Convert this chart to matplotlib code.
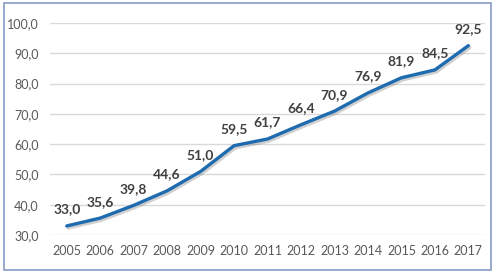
import matplotlib.pyplot as plt
import matplotlib.patheffects as pe
from matplotlib.patches import Rectangle

anos = [2005, 2006, 2007, 2008, 2009, 2010, 2011, 2012, 2013, 2014, 2015, 2016, 2017]
valores = [33.0, 35.6, 39.8, 44.6, 51.0, 59.5, 61.7, 66.4, 70.9, 76.9, 81.9, 84.5, 92.5]
yticks = [30, 40, 50, 60, 70, 80, 90, 100]

fig = plt.figure(figsize=(4.95, 2.73), dpi=100)
ax = fig.add_axes([0.101, 0.139, 0.879, 0.777])

ax.plot(anos, valores, color='#1F6BB0', linewidth=2.4, solid_capstyle='round',
        solid_joinstyle='round',
        path_effects=[pe.SimpleLineShadow(offset=(1, -1.5), shadow_color='#7a7a7a', alpha=0.35),
                      pe.Normal()], zorder=3)

for x, y in zip(anos, valores):
    ax.annotate(f'{y:.1f}'.replace('.', ','), (x, y), xytext=(0, 7.5), textcoords='offset points',
                ha='center', va='bottom', fontsize=10, fontweight='bold',
                color='#404040', family='Lato')

ax.set_xlim(2004.5, 2017.5)
ax.set_ylim(30, 100)
ax.set_xticks(anos)
ax.set_yticks(yticks)
ax.set_yticklabels([f'{v:.1f}'.replace('.', ',') for v in yticks])
for lab in ax.get_xticklabels() + ax.get_yticklabels():
    lab.set_family('Lato')
    lab.set_fontsize(9)
    lab.set_color('#595959')
ax.tick_params(length=0)
ax.tick_params(axis='y', pad=8)
ax.tick_params(axis='x', pad=7)
ax.grid(axis='y', color='#D9D9D9', linewidth=1)
ax.set_axisbelow(True)
for s in ax.spines.values():
    s.set_visible(False)

fig.patches.append(Rectangle((0.008, 0.01), 0.984, 0.98, transform=fig.transFigure,
                             fill=False, edgecolor='#8A9BC8', linewidth=1.2))

fig.savefig('out.png', dpi=100)
